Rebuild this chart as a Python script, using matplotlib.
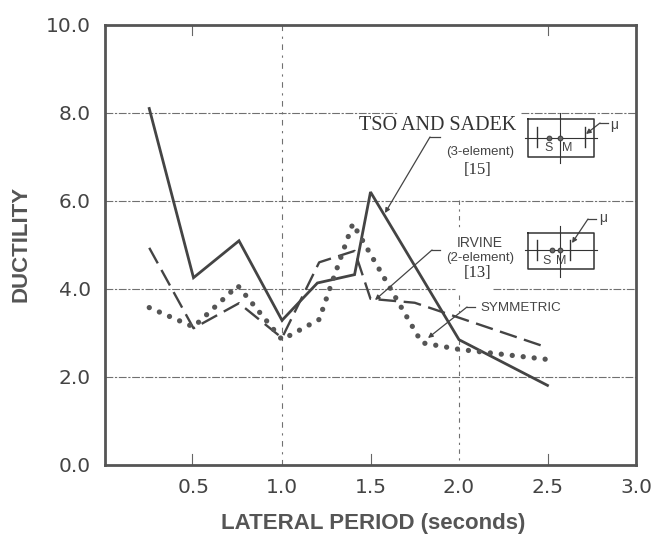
import matplotlib
matplotlib.use("Agg")
import matplotlib.pyplot as plt
from matplotlib.transforms import Affine2D

W, H = 652, 535
INK = "#4a4a4a"

# values
tso_x = [0.25, 0.5, 0.757, 1.0, 1.2, 1.41, 1.5, 2.0, 2.5]
tso_y = [8.1, 4.25, 5.09, 3.28, 4.13, 4.32, 6.2, 2.84, 1.8]
irvine_x = [0.25, 0.5, 0.757, 1.0, 1.21, 1.41, 1.5, 1.75, 2.5]
irvine_y = [4.93, 3.1, 3.67, 2.88, 4.6, 4.86, 3.77, 3.68, 2.66]
sym_x = [0.25, 0.5, 0.75, 1.0, 1.21, 1.27, 1.40, 1.79, 2.0, 2.5]
sym_y = [3.57, 3.13, 4.07, 2.84, 3.3, 4.0, 5.48, 2.77, 2.62, 2.39]
x_ticks = [0.5, 1.0, 1.5, 2.0, 2.5, 3.0]
x_labels = ["0.5", "1.0", "1.5", "2.0", "2.5", "3.0"]
y_ticks = [0, 2, 4, 6, 8, 10]
y_labels = ["0.0", "2.0", "4.0", "6.0", "8.0", "10.0"]

fig = plt.figure(figsize=(W / 100, H / 100), dpi=100)
ax = fig.add_axes([105 / W, 1 - 464.5 / H, 531 / W, 439.5 / H])
pix = Affine2D().scale(1 / W, -1 / H).translate(0, 1) + fig.transFigure  # image pixels

ax.set_xlim(0, 3)
ax.set_ylim(0, 10)
for s in ax.spines.values():
    s.set_linewidth(2.0)
    s.set_color("#555555")

ax.set_xticks(x_ticks, x_labels)
ax.set_yticks(y_ticks, y_labels)
ax.tick_params(length=0, labelsize=14.5, labelcolor="#444444")
ax.tick_params(axis="x", pad=10)
ax.tick_params(axis="y", pad=10)
ax.set_xlabel("LATERAL PERIOD (seconds)", fontsize=16, color="#555555", fontweight="bold",
              family="Liberation Sans")
ax.xaxis.set_label_coords(373, 524, transform=pix)
ax.xaxis.label.set_verticalalignment("center")
ax.set_ylabel("DUCTILITY", fontsize=16, color="#555555", fontweight="bold", family="Liberation Sans")
ax.yaxis.set_label_coords(21, 244, transform=pix)
ax.yaxis.label.set_verticalalignment("center")

grid = dict(color="#707070", lw=0.8, dashes=(7, 1.5, 2, 1.5), zorder=1)
ax.plot([0, 3], [2, 2], **grid)
ax.plot([0, 3], [6, 6], **grid)
ax.plot([105, 397], [112.7, 112.7], transform=pix, **grid)
ax.plot([521, 636], [112.7, 112.7], transform=pix, **grid)
ax.plot([105, 455], [289, 289], transform=pix, **grid)
ax.plot([493, 636], [289, 289], transform=pix, **grid)
ax.plot([1, 1], [0, 10], **{**grid, "dashes": (5, 5, 2, 5)})
for y0, y1 in [(200, 228), (295, 312), (340, 464)]:
    ax.plot([459, 459], [y0, y1], transform=pix, **{**grid, "dashes": (4, 4, 2, 4)})

# short inward ticks, top and bottom
for px in (192, 371, 548):
    ax.plot([px, px], [464, 454], transform=pix, color="#666666", lw=0.8)
for px in (192, 548):
    ax.plot([px, px], [25, 35], transform=pix, color="#666666", lw=0.8)

ax.plot(tso_x, tso_y, color="#444444", lw=2.0, solid_joinstyle="miter", zorder=3)
ax.plot(irvine_x, irvine_y, color="#444444", lw=1.7, dashes=(7.5, 3.2), zorder=3)
ax.plot(sym_x, sym_y, color="#555555", lw=3.8, linestyle=(0, (0.01, 2.08)),
        dash_capstyle="round", zorder=3)

# callouts, in image pixels
lead = dict(transform=pix, color="#444444", lw=0.9, zorder=4)
arrow = dict(arrowstyle="-|>", color="#444444", lw=0.9, mutation_scale=7, shrinkA=0, shrinkB=0)


def callout(points):
    xs, ys = zip(*points)
    ax.plot(xs[:-1], ys[:-1], **lead)
    ax.annotate("", xy=points[-1], xytext=points[-2], xycoords=pix, textcoords=pix,
                arrowprops=arrow, annotation_clip=False)


callout([(440, 137), (430, 137), (385, 213)])
callout([(440, 250), (432, 250), (375, 300)])
callout([(475, 307), (467, 307), (428, 338)])

serif = dict(transform=pix, family="Liberation Serif", color="#333333", ha="center", va="center")
sans = dict(transform=pix, family="Liberation Sans", color="#444444", ha="center", va="center")
ax.text(438, 126, "TSO AND SADEK", fontsize=14.5, **serif)
ax.text(480, 152, "(3-element)", fontsize=9.5, **sans)
ax.text(478, 170, "[15]", fontsize=12, **serif)
ax.text(480, 243, "IRVINE", fontsize=10, **sans)
ax.text(480, 258, "(2-element)", fontsize=9.5, **sans)
ax.text(478, 273, "[13]", fontsize=12, **serif)
ax.text(521, 308, "SYMMETRIC", fontsize=9.6, **sans)


def inset(top, bottom, tick_r, dot_s, s_x, m_x, lab_y, tick_top, tick_bot, hy, vtop, vbot):
    st = dict(transform=pix, color="#333333", zorder=4)
    ax.plot([528, 594, 594, 528, 528], [top, top, bottom, bottom, top], lw=1.1, **st)
    ax.plot([525, 597], [hy, hy], lw=0.8, **st)
    ax.plot([560, 560], [vtop, vbot], lw=0.8, **st)
    for px in (537, tick_r):
        ax.plot([px, px], [tick_top, tick_bot], lw=1.0, **st)
    ax.plot([dot_s, 560], [hy, hy], ls="none", marker="o", ms=3.5, mfc="#666666", mec="#333333",
            mew=0.6, **st)
    ax.text(s_x, lab_y, "S", fontsize=9, **sans)
    ax.text(m_x, lab_y, "M", fontsize=9, **sans)


inset(119, 157, 585, 549, 549, 567, 148, 127, 147, 138, 113, 163)
inset(233, 269, 570, 552, 547, 561, 261, 240, 260, 250, 226, 277)
callout([(608, 123), (600, 123), (586, 134)])
callout([(596, 219), (588, 219), (572, 243)])
ax.text(614, 125, "\u03bc", fontsize=10, **sans)
ax.text(603, 218, "\u03bc", fontsize=10, **sans)

fig.savefig("out.png", dpi=100)
